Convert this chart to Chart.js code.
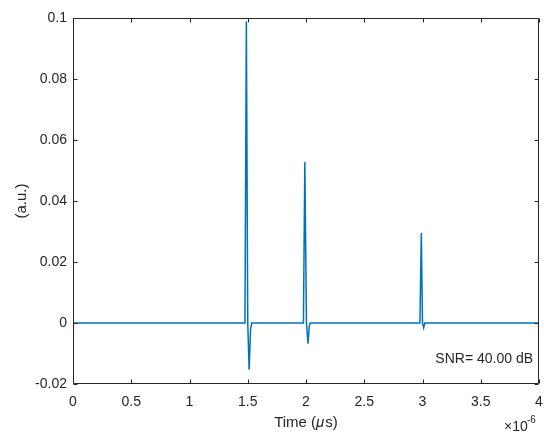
<!DOCTYPE html>
<html>
<head>
<meta charset="utf-8">
<script src="https://cdn.jsdelivr.net/npm/chart.js@4.4.1/dist/chart.umd.min.js"></script>
<style>
  html, body { margin: 0; padding: 0; background: #fff; }
  #wrap { width: 544px; height: 437px; }
</style>
</head>
<body>
<div id="wrap"><canvas id="sig"></canvas></div>
<script>
// señal simulada - tiempo en microsegundos (eje mostrado x 1e-6)
const timeUs = [0, 1.476, 1.488, 1.50, 1.512, 1.524, 1.535,
                1.978, 1.99, 2.004, 2.017, 2.028, 2.037,
                2.978, 2.99, 3.0, 3.01, 3.02, 3.03, 4];
const signal = [0, 0, 0.0989, 0.0, -0.0153, -0.002, 0,
                0, 0.0528, 0.0, -0.0068, -0.001, 0,
                0, 0.0295, 0.0, -0.0016, 0, 0, 0];
const xTicks = [0, 0.5, 1, 1.5, 2, 2.5, 3, 3.5, 4];
const yTicks = [-0.02, 0, 0.02, 0.04, 0.06, 0.08, 0.1];

const FONT = "'Liberation Sans', Arial, sans-serif";
const TXT = '#262626';
const AXC = '#262626';

const points = timeUs.map((t, i) => ({ x: t, y: signal[i] }));

// caja estilo matlab con marcas hacia dentro + textos
const boxPlugin = {
  id: 'box',
  afterDraw(chart) {
    const { ctx, chartArea: a, scales } = chart;
    const L = Math.round(a.left) + 0.5, R = Math.round(a.right) - 0.5;
    const T = Math.round(a.top) + 0.5, B = Math.round(a.bottom) - 0.5;
    ctx.save();
    ctx.strokeStyle = AXC;
    ctx.lineWidth = 1;
    ctx.beginPath();
    ctx.rect(L, T, R - L, B - T);
    xTicks.forEach(v => {
      const px = Math.round(scales.x.getPixelForValue(v)) + 0.5;
      ctx.moveTo(px, B); ctx.lineTo(px, B - 4);
      ctx.moveTo(px, T); ctx.lineTo(px, T + 4);
    });
    yTicks.forEach(v => {
      const py = Math.round(scales.y.getPixelForValue(v)) + 0.5;
      ctx.moveTo(L, py); ctx.lineTo(L + 4, py);
      ctx.moveTo(R, py); ctx.lineTo(R - 4, py);
    });
    ctx.stroke();

    ctx.fillStyle = TXT;
    ctx.font = '15px ' + FONT;
    ctx.textBaseline = 'middle';
    // etiqueta eje y
    ctx.save();
    ctx.translate(22, (a.top + a.bottom) / 2);
    ctx.rotate(-Math.PI / 2);
    ctx.textAlign = 'center';
    ctx.fillText('(a.u.)', 0, 0);
    ctx.restore();
    // etiqueta eje x: "Time (" + mu en cursiva + "s)"
    const p1 = 'Time (', p2 = '\u03BC', p3 = 's)';
    const fN = '15px ' + FONT, fI = 'italic 15px ' + FONT;
    ctx.font = fN; const w1 = ctx.measureText(p1).width, w3 = ctx.measureText(p3).width;
    ctx.font = fI; const w2 = ctx.measureText(p2).width + 1;
    let xs = (a.left + a.right) / 2 - (w1 + w2 + w3) / 2;
    ctx.textAlign = 'left';
    ctx.font = fN; ctx.fillText(p1, xs, 423);
    ctx.font = fI; ctx.fillText(p2, xs + w1, 423);
    ctx.font = fN; ctx.fillText(p3, xs + w1 + w2, 423);
    // exponente
    ctx.font = '14px ' + FONT;
    ctx.fillText('\u00D710', 504, 427);
    ctx.font = '10px ' + FONT;
    ctx.fillText('-6', 527, 420);
    // SNR
    ctx.font = '14px ' + FONT;
    ctx.textAlign = 'right';
    ctx.fillText('SNR= 40.00 dB', 533, 359);
    ctx.restore();
  }
};

new Chart(document.getElementById('sig'), {
  type: 'line',
  data: {
    datasets: [{
      data: points,
      borderColor: '#0072BD',
      borderWidth: 1.5,
      pointRadius: 0,
      tension: 0,
      fill: false
    }]
  },
  options: {
    responsive: true,
    maintainAspectRatio: false,
    animation: false,
    layout: { padding: { top: 18, right: 5, left: 0, bottom: 0 } },
    plugins: { legend: { display: false }, tooltip: { enabled: false } },
    scales: {
      x: {
        type: 'linear', min: 0, max: 4,
        afterFit: s => { s.height = 53; s.paddingLeft = 0; s.paddingRight = 0; },
        afterBuildTicks: s => { s.ticks = xTicks.map(v => ({ value: v })); },
        ticks: { color: TXT, font: { size: 14, family: FONT }, padding: 10, maxRotation: 0,
                 callback: v => String(v) },
        grid: { display: false, tickLength: 0 },
        border: { display: false }
      },
      y: {
        min: -0.02, max: 0.1,
        afterFit: s => { s.width = 73; s.paddingTop = 0; s.paddingBottom = 0; },
        afterBuildTicks: s => { s.ticks = yTicks.map(v => ({ value: v })); },
        ticks: { color: TXT, font: { size: 14, family: FONT }, padding: 6,
                 callback: v => String(Number(v.toFixed(2))) },
        grid: { display: false, tickLength: 0 },
        border: { display: false }
      }
    }
  },
  plugins: [boxPlugin]
});
</script>
</body>
</html>
